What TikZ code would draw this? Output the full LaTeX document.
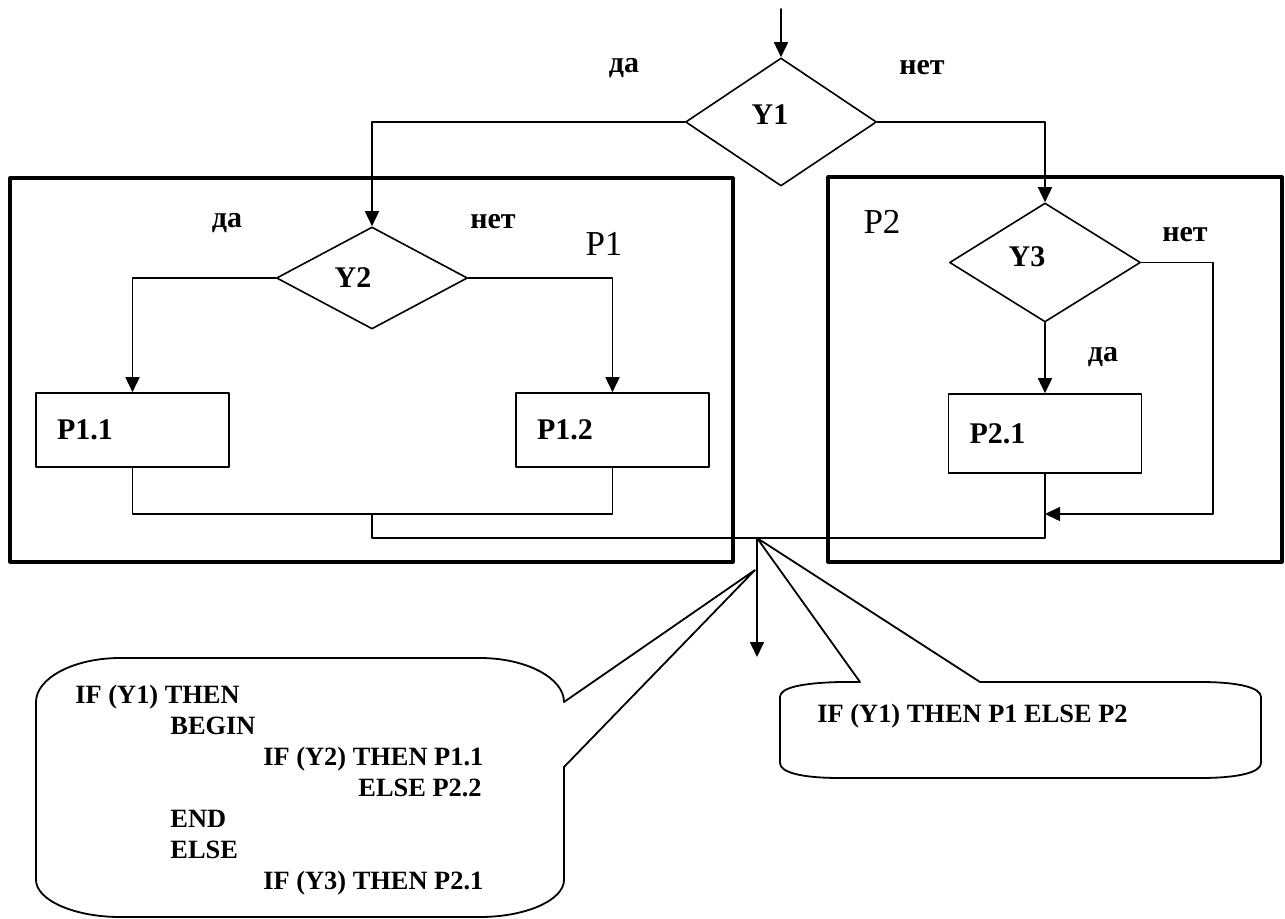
\documentclass[tikz,border=0pt]{standalone}
\usepackage{fontspec}
\setmainfont{Liberation Serif}
\usetikzlibrary{shapes.geometric,arrows.meta}

\begin{document}
\begin{tikzpicture}[x=0.5pt,y=-0.5pt,line cap=round,line join=round,
  flow/.style={line width=0.8pt},
  arr/.style={flow,-{Triangle[length=7.5pt,width=7pt]}},
  frame/.style={line width=1.6pt},
  bubble/.style={line width=0.9pt},
  cond/.style={diamond,draw,line width=0.8pt,inner sep=0pt,minimum width=95.5pt},
  blk/.style={rectangle,draw,line width=0.8pt,inner xsep=10.5pt,text width=75.5pt,
    align=left,font=\bfseries\fontsize{15}{18}\selectfont},
  lbl/.style={inner sep=0pt,font=\bfseries\fontsize{15}{18}\selectfont},
  part/.style={inner sep=0pt,font=\fontsize{17.5}{20}\selectfont},
  code/.style={inner sep=0pt,align=left,font=\bfseries\fontsize{13.2}{15.5}\selectfont}]
  \useasboundingbox (0,0) rectangle (1285,919);
  % blocks P1 and P2
  \draw[frame] (10,178) rectangle (733,562);
  \draw[frame] (828,177) rectangle (1282,562);
  \node[part] (np1) at (604,244) {P1};
  \node[part] (np2) at (882,222) {P2};
  % conditions and actions
  \coordinate (entry) at (781,9);
  \node[cond,minimum height=64pt] (y1) at (781,122) {};
  \node[cond,minimum height=51pt] (y2) at (372,278) {};
  \node[cond,minimum height=59.5pt] (y3) at (1045,262.5) {};
  \node[lbl] (ty1) at (770,115) {Y1};
  \node[lbl] (ty2) at (353,278) {Y2};
  \node[lbl] (ty3) at (1027,257) {Y3};
  \node[blk,minimum height=37pt] (p11) at (132.5,430) {P1.1};
  \node[blk,minimum height=37pt] (p12) at (612.5,430) {P1.2};
  \node[blk,minimum height=39.5pt] (p21) at (1045,433.5) {P2.1};
  \node[lbl] (yes1) at (624,68) {да};
  \node[lbl] (no1) at (922,68) {нет};
  \node[lbl] (yes2) at (227,223) {да};
  \node[lbl] (no2) at (493,222) {нет};
  \node[lbl] (no3) at (1185,235) {нет};
  \node[lbl] (yes3) at (1103,357) {да};
  \coordinate (j1) at (372,514);
  \coordinate (j2) at (1045,514);
  \coordinate (r3) at (1213,514);
  \coordinate (m2) at (1045,538);
  \coordinate (out) at (757,538);
  \coordinate (exit) at (757,657);
  \coordinate (tip) at (755,570);
  % connectors
  \draw[arr] (entry) -- (y1.north);
  \draw[arr] (y1.west) -| (y2.north);
  \draw[arr] (y1.east) -| (y3.north);
  \draw[arr] (y2.west) -| (p11.north);
  \draw[arr] (y2.east) -| (p12.north);
  \draw[arr] (y3.south) -- (p21.north);
  \draw[arr] (y3.east) -| (r3) -- (j2);
  \draw[flow] (p11.south) |- (j1) -| (p12.south);
  \draw[flow] (j1) |- (m2) -- (p21.south);
  \draw[arr] (out) -- (exit);
  % callouts
  \draw[bubble] (564,702) -- (tip) -- (564,767) -- (564,880)
    .. controls (564,900) and (526,917) .. (480,917) -- (120,917)
    .. controls (74,917) and (36,900) .. (36,880) -- (36,702)
    .. controls (36,678) and (74,658) .. (120,658) -- (480,658)
    .. controls (526,658) and (564,678) .. (564,702) -- cycle;
  \draw[bubble] (860,682) -- (out) -- (980,682) -- (1200,682)
    .. controls (1240,682) and (1261,688) .. (1261,697) -- (1261,763)
    .. controls (1261,772) and (1240,778) .. (1200,778) -- (840,778)
    .. controls (800,778) and (780,772) .. (780,763) -- (780,697)
    .. controls (780,688) and (800,683) .. (840,682) -- cycle;
  \node[code,anchor=north west] (c1) at (75,685) {IF (Y1) THEN\\
    \hspace*{47.5pt}BEGIN\\
    \hspace*{94pt}IF (Y2) THEN P1.1\\
    \hspace*{141.5pt}ELSE P2.2\\
    \hspace*{47.5pt}END\\
    \hspace*{47.5pt}ELSE\\
    \hspace*{94pt}IF (Y3) THEN P2.1};
  \node[code,anchor=base west] (c2) at (817,722) {IF (Y1) THEN P1 ELSE P2};
\end{tikzpicture}
\end{document}
